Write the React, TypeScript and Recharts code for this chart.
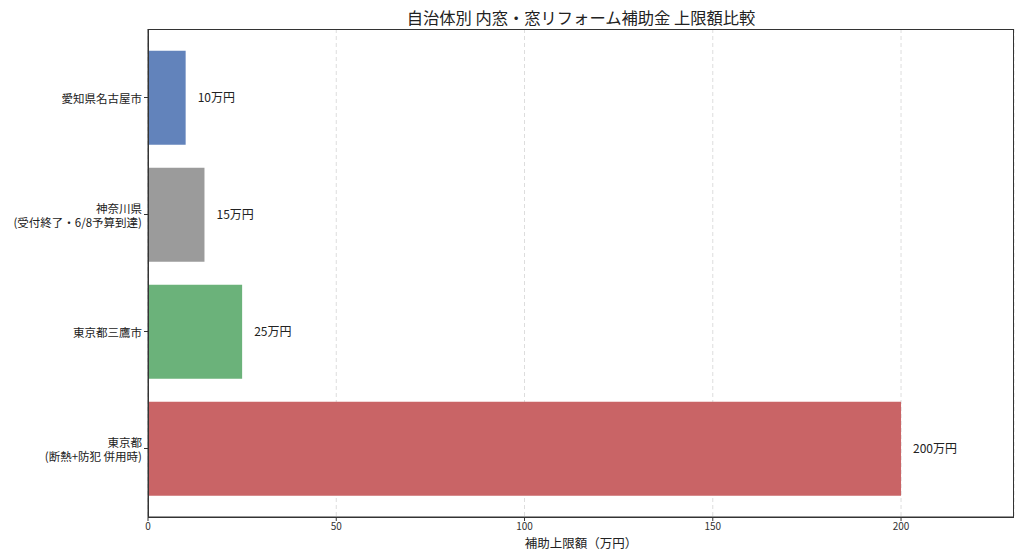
import { BarChart, Bar, XAxis, YAxis, CartesianGrid, Cell, LabelList } from 'recharts'

const regions = ['愛知県名古屋市', '神奈川県\n(受付終了・6/8予算到達)', '東京都三鷹市', '東京都\n(断熱+防犯 併用時)']
const limits = [10, 15, 25, 200]
const colors = ['#6283BB', '#9B9B9B', '#6BB27A', '#C96466']
const xTicks = [0, 50, 100, 150, 200]

const data = regions.map((name, i) => ({ name, value: limits[i] }))

const font = '"Noto Sans CJK JP", "Noto Sans", sans-serif'

const RegionTick = (props: any) => {
  const { x, y, payload } = props
  const lines = String(payload.value).split('\n')
  const lh = 14
  const start = y - ((lines.length - 1) * lh) / 2
  return (
    <text x={x} y={start} textAnchor="end" fontSize={11.5} fill="#222" fontFamily={font} dominantBaseline="central">
      {lines.map((l: string, i: number) => (
        <tspan key={i} x={x} y={start + i * lh}>
          {l}
        </tspan>
      ))}
    </text>
  )
}

const App = () => {
  return (
    <div style={{ position: 'absolute', left: 0, top: 0, width: 1024, height: 559, background: '#fff', fontFamily: font }}>
      <div
        style={{
          position: 'absolute',
          left: 148,
          width: 866,
          top: 5,
          textAlign: 'center',
          fontSize: 16.3,
          color: '#222'
        }}
      >
        自治体別 内窓・窓リフォーム補助金 上限額比較
      </div>
      <BarChart
        width={1024}
        height={559}
        data={data}
        layout="vertical"
        margin={{ top: 29, right: 10, left: 0, bottom: 0 }}
        barCategoryGap="10%"
      >
        <CartesianGrid horizontal={false} stroke="#ddd" strokeDasharray="4 3" />
        <XAxis
          type="number"
          domain={[0, 230]}
          ticks={xTicks}
          height={42}
          tick={{ fontSize: 10, fill: '#333', fontFamily: font }}
          tickSize={4}
          axisLine={{ stroke: '#333' }}
          tickLine={{ stroke: '#333' }}
          label={{ value: '補助上限額（万円）', position: 'insideBottom', offset: 11, fontSize: 12.5, fill: '#222', fontFamily: font }}
        />
        <YAxis
          type="category"
          dataKey="name"
          width={148}
          padding={{ top: 10, bottom: 10 }}
          tick={<RegionTick />}
          tickSize={4}
          axisLine={{ stroke: '#333' }}
          tickLine={{ stroke: '#333' }}
          interval={0}
        />
        <Bar dataKey="value" isAnimationActive={false}>
          {data.map((d, i) => (
            <Cell key={d.name} fill={colors[i]} />
          ))}
          <LabelList
            dataKey="value"
            position="right"
            offset={12}
            formatter={(v: any) => `${v}万円`}
            style={{ fontSize: 12, fill: '#222', fontFamily: font }}
          />
        </Bar>
      </BarChart>
      {/* frame around the plot area (top/right spines) */}
      <div
        style={{
          position: 'absolute',
          left: 148,
          top: 29,
          width: 866,
          height: 489,
          boxSizing: 'border-box',
          border: '1px solid #333',
          pointerEvents: 'none'
        }}
      />
    </div>
  )
}

export default App
